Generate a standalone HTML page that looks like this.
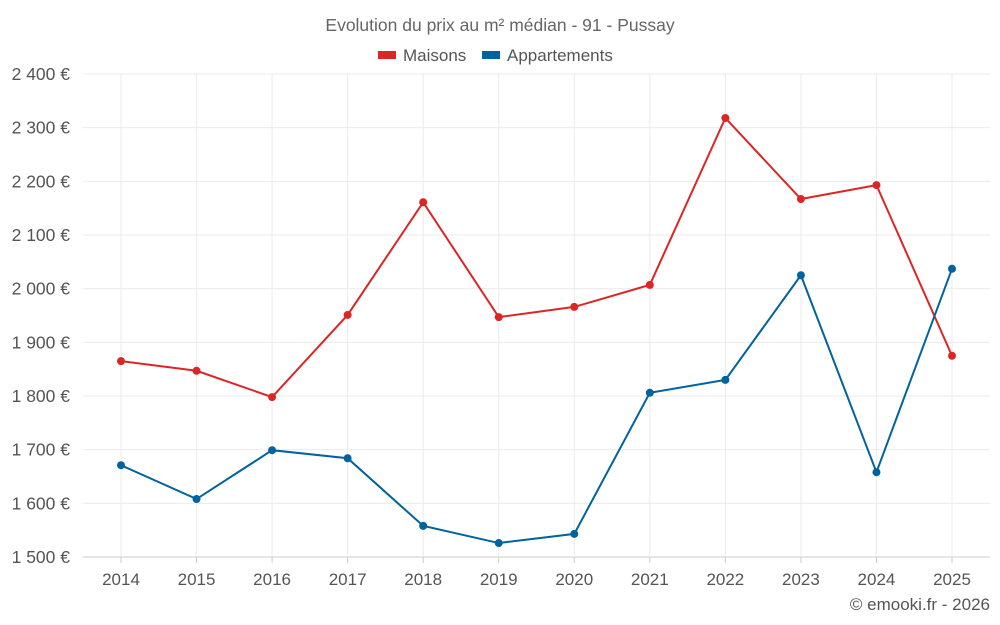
<!DOCTYPE html>
<html><head><meta charset="utf-8"><style>
body{margin:0;background:#fff;font-family:"Liberation Sans",sans-serif;}
svg{display:block}
</style></head><body>
<svg id="chart" width="1000" height="625">
<text x="500" y="31" text-anchor="middle" font-size="17.5" fill="#666">Evolution du prix au m² médian - 91 - Pussay</text>
<g>
<g><rect x="378" y="51" width="18" height="8" fill="#dc2626"/><text x="403" y="61" font-size="17" fill="#555">Maisons</text></g>
<g><rect x="482" y="51" width="18" height="8" fill="#00639e"/><text x="507" y="61" font-size="17" fill="#555">Appartements</text></g>
</g>
<g id="grid"></g><g id="series"></g>
<text x="990" y="610" text-anchor="end" font-size="17" fill="#555">© emooki.fr - 2026</text>
</svg>
<script>
const years=[2014,2015,2016,2017,2018,2019,2020,2021,2022,2023,2024,2025];
const maisons=[1865,1847,1798,1951,2161,1947,1966,2007,2318,2167,2193,1875];
const appartements=[1671,1608,1699,1684,1558,1526,1543,1806,1830,2025,1658,2037];
const yTicks=[1500,1600,1700,1800,1900,2000,2100,2200,2300,2400];
const NS="http://www.w3.org/2000/svg";
const L=83,R=990,T=74,B=557;
const x=i=>121+i*(952-121)/(years.length-1);
const y=v=>B-(v-1500)/900*(B-T);
function el(t,a,p){const e=document.createElementNS(NS,t);for(const k in a)e.setAttribute(k,a[k]);p.appendChild(e);return e;}
const g=document.getElementById('grid'),s=document.getElementById('series');
const fmt=v=>String(v).replace(/\B(?=(\d{3})+(?!\d))/g,' ')+' €';
yTicks.forEach(v=>{
 const ln=el('line',{x1:L,x2:R,y1:y(v),y2:y(v),stroke:v===1500?'#ccc':'#ebebeb'},g);
 
 
 const t=el('text',{x:70,y:y(v)+6,'text-anchor':'end','font-size':17.5,fill:'#555'},g);
 t.textContent=fmt(v);
 
 
});
years.forEach((yr,i)=>{
 const ln=el('line',{x1:x(i),x2:x(i),y1:T,y2:B,stroke:'#ebebeb'},g);
 
 
 const tk=el('line',{x1:x(i),x2:x(i),y1:B,y2:B+6,stroke:'#ccc'},g);
 
 
 const t=el('text',{x:x(i),y:585,'text-anchor':'middle','font-size':17,fill:'#555'},g);
 t.textContent=yr;
 
 
});
[[maisons,'#dc2626','maisons'],[appartements,'#00639e','appartements']].forEach(([d,c,n])=>{
 const p=el('polyline',{points:d.map((v,i)=>x(i)+','+y(v)).join(' '),fill:'none',stroke:c,'stroke-width':2},s);
 
 
 d.forEach((v,i)=>{
  const ci=el('circle',{cx:x(i),cy:y(v),r:4,fill:c},s);
  
  
 });
});
</script>
</body></html>
